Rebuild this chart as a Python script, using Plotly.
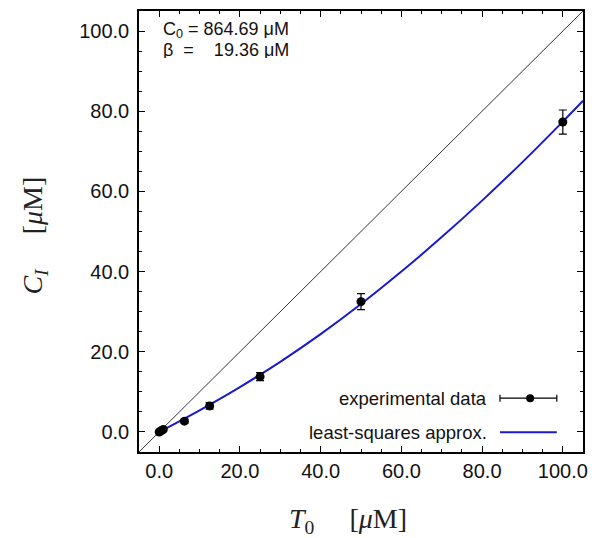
import plotly.graph_objects as go

# experimental data
t0 = [0.0, 0.5, 1.0, 6.25, 12.5, 25.0, 50.0, 100.0]
ci = [0.0, 0.3, 0.6, 2.7, 6.5, 13.8, 32.5, 77.3]
ci_err = [0.3, 0.3, 0.3, 0.5, 0.8, 1.0, 2.0, 3.0]

# least-squares curve
fit_x = [0, 10, 20, 30, 40, 50, 60, 70, 80, 90, 100, 105]
fit_y = [0, 5.4, 11.2, 17.5, 24.4, 31.9, 40.0, 48.6, 57.7, 67.3, 77.4, 82.6]

# identity line
diag = [-5, 105]

ticks = [0, 20, 40, 60, 80, 100]
tick_labels = ["0.0", "20.0", "40.0", "60.0", "80.0", "100.0"]

fig = go.Figure()
fig.add_trace(go.Scatter(x=diag, y=diag, mode="lines",
                         line=dict(color="#333333", width=1), showlegend=False))
fig.add_trace(go.Scatter(x=fit_x, y=fit_y, mode="lines", line_shape="spline",
                         line=dict(color="#1a1acc", width=2), showlegend=False))
fig.add_trace(go.Scatter(x=t0, y=ci, mode="markers",
                         marker=dict(color="black", size=9),
                         error_y=dict(type="data", array=ci_err, color="black",
                                      thickness=1.2, width=4),
                         showlegend=False))

axis_common = dict(
    range=[-5, 105], tickvals=ticks, ticktext=tick_labels,
    ticks="inside", ticklen=6, tickwidth=1, tickcolor="black",
    showline=True, linecolor="black", linewidth=1.5, mirror="ticks",
    showgrid=False, zeroline=False,
    minor=dict(ticks="inside", dtick=5, ticklen=3, tickcolor="black", tickwidth=1),
    tickfont=dict(family="Liberation Sans, Arial", size=20, color="#111111"),
)
fig.update_xaxes(**axis_common)
fig.update_yaxes(**axis_common, ticklabelstandoff=4)

fig.update_layout(
    width=599, height=538,
    margin=dict(l=139, r=16, t=9, b=86),
    plot_bgcolor="white", paper_bgcolor="white",
    showlegend=False,
)

serif = dict(family="Liberation Serif, Times New Roman", size=28, color="#222222")
fig.add_annotation(xref="paper", yref="paper", x=0.47, y=-0.155, yanchor="middle",
                   text="<i>T</i><sub>0</sub>&nbsp;&nbsp;&nbsp;&nbsp;&nbsp;[<i>μ</i>M]",
                   showarrow=False, font=serif)
fig.add_annotation(xref="paper", yref="paper", x=-0.235, y=0.49, xanchor="center",
                   text="<i>C<sub>I</sub></i>&nbsp;&nbsp;&nbsp;&nbsp;&nbsp;[<i>μ</i>M]",
                   showarrow=False, font=serif, textangle=-90)

sans = dict(family="Liberation Sans, Arial", size=18.5, color="#111111")
top = dict(family="Liberation Sans, Arial", size=18, color="#111111")
fig.add_annotation(xref="paper", yref="paper", x=0.05, y=0.957, xanchor="left", yanchor="middle",
                   text="C<sub>0</sub> = 864.69 μM", showarrow=False, font=top,
                   height=16, valign="middle")
fig.add_annotation(xref="paper", yref="paper", x=0.05, y=0.911, xanchor="left", yanchor="middle",
                   text="β&nbsp;&nbsp;=&nbsp;&nbsp;&nbsp;&nbsp;19.36 μM", showarrow=False, font=top,
                   height=16, valign="middle")

# custom legend
fig.add_annotation(xref="paper", yref="paper", x=0.788, y=0.122, xanchor="right", yanchor="middle",
                   text="experimental data", showarrow=False, font=sans)
fig.add_annotation(xref="paper", yref="paper", x=0.788, y=0.045, xanchor="right", yanchor="middle",
                   text="least-squares approx.", showarrow=False, font=sans)
fig.add_shape(type="line", xref="paper", yref="paper", x0=0.813, x1=0.941, y0=0.122, y1=0.122,
              line=dict(color="black", width=1.2))
for xc in (0.813, 0.941):
    fig.add_shape(type="line", xref="paper", yref="paper", x0=xc, x1=xc, y0=0.114, y1=0.130,
                  line=dict(color="black", width=1.2))
fig.add_shape(type="circle", xref="paper", yref="paper", x0=0.872, x1=0.890, y0=0.113, y1=0.131,
              fillcolor="black", line=dict(color="black", width=0))
fig.add_shape(type="line", xref="paper", yref="paper", x0=0.813, x1=0.941, y0=0.045, y1=0.045,
              line=dict(color="#1a1acc", width=2))

fig.write_html("out.html")
